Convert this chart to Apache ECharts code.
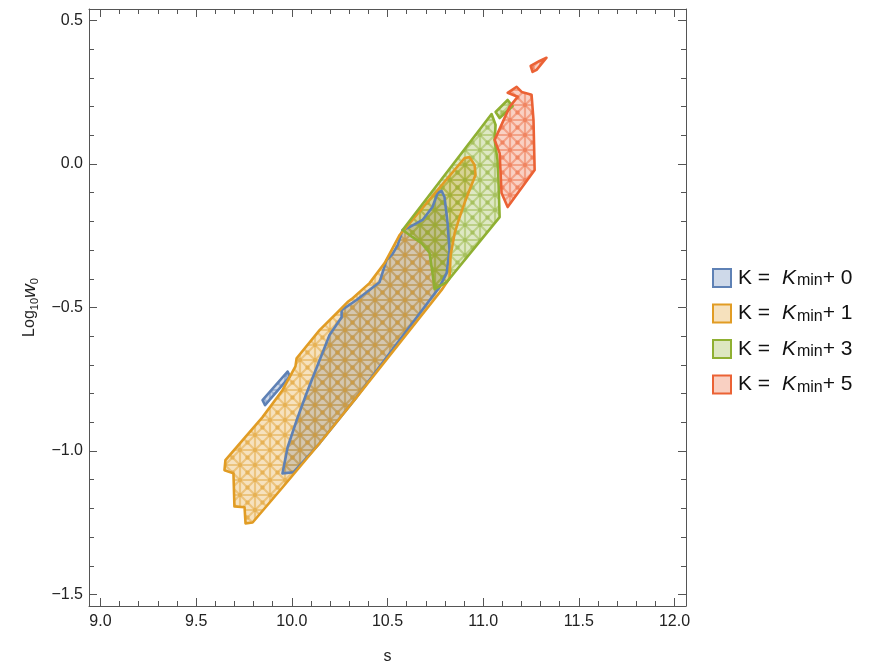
<!DOCTYPE html>
<html><head><meta charset="utf-8">
<script src="https://cdn.jsdelivr.net/npm/echarts@6/dist/echarts.min.js"></script>
<style>html,body{margin:0;padding:0;background:#fff}#c{width:874px;height:663px}</style>
</head><body><div id="c"></div>
<script>
// ---- tick values ----
const xMajor = [9.0, 9.5, 10.0, 10.5, 11.0, 11.5, 12.0];
const xMinor = [9.1,9.2,9.3,9.4,9.6,9.7,9.8,9.9,10.1,10.2,10.3,10.4,10.6,10.7,10.8,10.9,11.1,11.2,11.3,11.4,11.6,11.7,11.8,11.9];
const yMajor = [-1.5, -1.0, -0.5, 0.0, 0.5];
const yMinor = [-1.4,-1.3,-1.2,-1.1,-0.9,-0.8,-0.7,-0.6,-0.4,-0.3,-0.2,-0.1,0.1,0.2,0.3,0.4];

// ---- legend labels ----
const seriesNames = ['K0', 'K1', 'K3', 'K5'];
const legendOffsets = ['0', '1', '3', '5'];

// ---- region outlines (s, log10 w0) ----
const k0Main = [[9.951,-1.078],[9.978,-0.987],[10.025,-0.893],[10.077,-0.799],[10.145,-0.684],[10.197,-0.596],[10.260,-0.534],[10.260,-0.509],[10.338,-0.474],[10.458,-0.412],[10.495,-0.335],[10.526,-0.314],[10.553,-0.283],[10.579,-0.230],[10.615,-0.220],[10.683,-0.195],[10.735,-0.150],[10.762,-0.101],[10.783,-0.094],[10.798,-0.115],[10.814,-0.206],[10.824,-0.300],[10.809,-0.380],[10.772,-0.429],[10.338,-0.813],[10.145,-0.973],[10.009,-1.074]];
const k0Sliver = [[9.847,-0.823],[9.860,-0.840],[9.990,-0.740],[9.978,-0.723]];
const k1Main = [[9.758,-1.252],[9.753,-1.196],[9.700,-1.193],[9.695,-1.078],[9.648,-1.067],[9.653,-1.032],[9.742,-0.963],[9.847,-0.882],[9.951,-0.788],[10.019,-0.705],[10.025,-0.677],[10.145,-0.579],[10.234,-0.520],[10.291,-0.481],[10.312,-0.471],[10.406,-0.415],[10.485,-0.345],[10.563,-0.248],[10.903,0.021],[10.929,0.024],[10.955,-0.003],[10.960,-0.038],[10.939,-0.073],[10.908,-0.126],[10.877,-0.185],[10.851,-0.241],[10.830,-0.317],[10.824,-0.398],[10.783,-0.439],[10.338,-0.813],[10.145,-0.973],[9.951,-1.127],[9.795,-1.249]];
const k3Main = [[10.579,-0.230],[11.044,0.174],[11.065,0.136],[11.060,0.084],[11.075,0.014],[11.080,-0.056],[11.086,-0.185],[10.809,-0.412],[10.746,-0.436],[10.735,-0.380],[10.720,-0.310],[10.678,-0.276],[10.631,-0.255]];
const k3Small = [[11.065,0.181],[11.128,0.223],[11.154,0.202],[11.086,0.160]];
const k5Main = [[11.128,0.248],[11.175,0.269],[11.201,0.251],[11.253,0.241],[11.263,0.153],[11.269,-0.021],[11.128,-0.150],[11.096,-0.101],[11.086,0.038],[11.060,0.084],[11.138,0.199],[11.180,0.234]];
const k5Small = [[11.248,0.342],[11.295,0.359],[11.331,0.370],[11.279,0.328],[11.258,0.321]];

const regions = [
  { name: 'K0', polys: [k0Main, k0Sliver], rgb: [94,129,181] },
  { name: 'K1', polys: [k1Main], rgb: [225,156,36] },
  { name: 'K3', polys: [k3Main, k3Small], rgb: [143,176,50] },
  { name: 'K5', polys: [k5Main, k5Small], rgb: [235,98,53] }
];

function rgba(c, a) { return 'rgba(' + c[0] + ',' + c[1] + ',' + c[2] + ',' + a + ')'; }

function makePattern(c) {
  const s = 15;
  const cv = document.createElement('canvas');
  cv.width = s; cv.height = s;
  const g = cv.getContext('2d');
  g.fillStyle = rgba(c, 0.29);
  g.fillRect(0, 0, s, s);
  g.strokeStyle = rgba(c, 0.42);
  g.lineWidth = 2.2;
  g.beginPath();
  g.moveTo(0, 0); g.lineTo(s, 0);
  g.moveTo(0, s); g.lineTo(s, s);
  g.moveTo(0, 0); g.lineTo(0, s);
  g.moveTo(s, 0); g.lineTo(s, s);
  g.moveTo(0, 0); g.lineTo(s, s);
  g.moveTo(s, 0); g.lineTo(0, s);
  g.stroke();
  g.fillStyle = rgba(c, 0.45);
  [[0,0],[s,0],[0,s],[s,s],[s/2,s/2]].forEach(function (p) {
    g.beginPath(); g.arc(p[0], p[1], 2.2, 0, Math.PI * 2); g.fill();
  });
  return cv;
}

function polySeries(r, mode) {
  const pattern = { image: makePattern(r.rgb), repeat: 'repeat' };
  return {
    type: 'custom',
    name: r.name,
    coordinateSystem: 'cartesian2d',
    xAxisIndex: 0, yAxisIndex: 0,
    itemStyle: { color: rgba(r.rgb, 0.3) },
    data: r.polys.map(function (p, i) { return [p[0][0], p[0][1], i]; }),
    renderItem: function (params, api) {
      const poly = r.polys[api.value(2)];
      const pts = poly.map(function (p) { return api.coord(p); });
      if (mode === 'fill') {
        return { type: 'polygon', shape: { points: pts }, style: { fill: pattern, stroke: null } };
      }
      return { type: 'polygon', shape: { points: pts },
        style: { fill: null, stroke: rgba(r.rgb, 1), lineWidth: 2.6, lineJoin: 'round' } };
    },
    silent: true,
    animation: false
  };
}

const series = regions.map(function (r) { return polySeries(r, 'fill'); })
  .concat(regions.map(function (r) { return polySeries(r, 'stroke'); }));

const FONT = 'Liberation Sans, Arial, sans-serif';
const axisCol = '#555';
function fmt(v) { return v.toFixed(1).replace('-', '\u2212'); }

function xAx(pos, vals, len, showLine, labels, extra) {
  return Object.assign({
    type: 'value', min: 8.94, max: 12.06, position: pos, gridIndex: 0,
    axisLine: { show: showLine, onZero: false, lineStyle: { color: axisCol, width: 1 } },
    axisTick: { show: true, inside: true, length: len, customValues: vals, lineStyle: { color: axisCol, width: 1 } },
    axisLabel: labels ? { show: true, customValues: vals, formatter: fmt, fontSize: 16, color: '#222', margin: 8, fontFamily: FONT } : { show: false },
    splitLine: { show: false }
  }, extra || {});
}
function yAx(pos, vals, len, showLine, labels, extra) {
  return Object.assign({
    type: 'value', min: -1.54, max: 0.54, position: pos, gridIndex: 0,
    axisLine: { show: showLine, onZero: false, lineStyle: { color: axisCol, width: 1 } },
    axisTick: { show: true, inside: true, length: len, customValues: vals, lineStyle: { color: axisCol, width: 1 } },
    axisLabel: labels ? { show: true, customValues: vals, formatter: fmt, fontSize: 16, color: '#222', margin: 6, fontFamily: FONT } : { show: false },
    splitLine: { show: false }
  }, extra || {});
}

const legendNameMap = {};
seriesNames.forEach(function (n, i) { legendNameMap[n] = 'K = {g| }{k|K}{s|min}+ ' + legendOffsets[i]; });

const option = {
  backgroundColor: '#fff',
  animation: false,
  grid: { left: 89, right: 188, top: 9, bottom: 57, containLabel: false, outerBoundsMode: 'none' },
  xAxis: [
    xAx('bottom', xMajor, 8, true, true, {
      name: 's', nameLocation: 'middle', nameGap: 43,
      nameTextStyle: { fontSize: 16, color: '#222', fontFamily: FONT }
    }),
    xAx('bottom', xMinor, 5, false, false),
    xAx('top', xMajor, 8, true, false),
    xAx('top', xMinor, 5, false, false)
  ],
  yAxis: [
    yAx('left', yMajor, 8, true, true, {
      name: '{a|Log}{s|10}{w|w}{s|0}', nameLocation: 'middle', nameGap: 48,
      nameTextStyle: {
        color: '#222', fontFamily: FONT, fontSize: 16, lineHeight: 22,
        rich: {
          a: { fontSize: 16, color: '#222', fontFamily: FONT, lineHeight: 22 },
          s: { fontSize: 11, color: '#222', fontFamily: FONT, verticalAlign: 'bottom', lineHeight: 12 },
          w: { fontSize: 19, fontStyle: 'italic', color: '#222', fontFamily: FONT, lineHeight: 22 }
        }
      }
    }),
    yAx('left', yMinor, 5, false, false),
    yAx('right', yMajor, 8, true, false),
    yAx('right', yMinor, 5, false, false)
  ],
  legend: {
    orient: 'vertical', left: 712, top: 267, padding: 0,
    itemWidth: 18, itemHeight: 18, itemGap: 13.5,
    selectedMode: false,
    icon: 'rect',
    data: regions.map(function (r) {
      return { name: r.name, icon: 'rect',
        itemStyle: { color: rgba(r.rgb, 0.3), borderColor: rgba(r.rgb, 1), borderWidth: 2 } };
    }),
    formatter: function (n) { return legendNameMap[n]; },
    textStyle: {
      fontSize: 21, color: '#111', fontFamily: FONT, lineHeight: 22, padding: [0, 0, 0, 2],
      rich: {
        g: { fontSize: 21, width: 6, lineHeight: 22 },
        k: { fontSize: 21, fontStyle: 'italic', color: '#111', fontFamily: FONT, lineHeight: 22, padding: [0, 1, 0, 0] },
        s: { fontSize: 16, color: '#111', fontFamily: FONT, verticalAlign: 'bottom', lineHeight: 7 }
      }
    }
  },
  series: series
};

const chart = echarts.init(document.getElementById('c'), null, { renderer: 'canvas' });
chart.setOption(option);
</script>
</body></html>
